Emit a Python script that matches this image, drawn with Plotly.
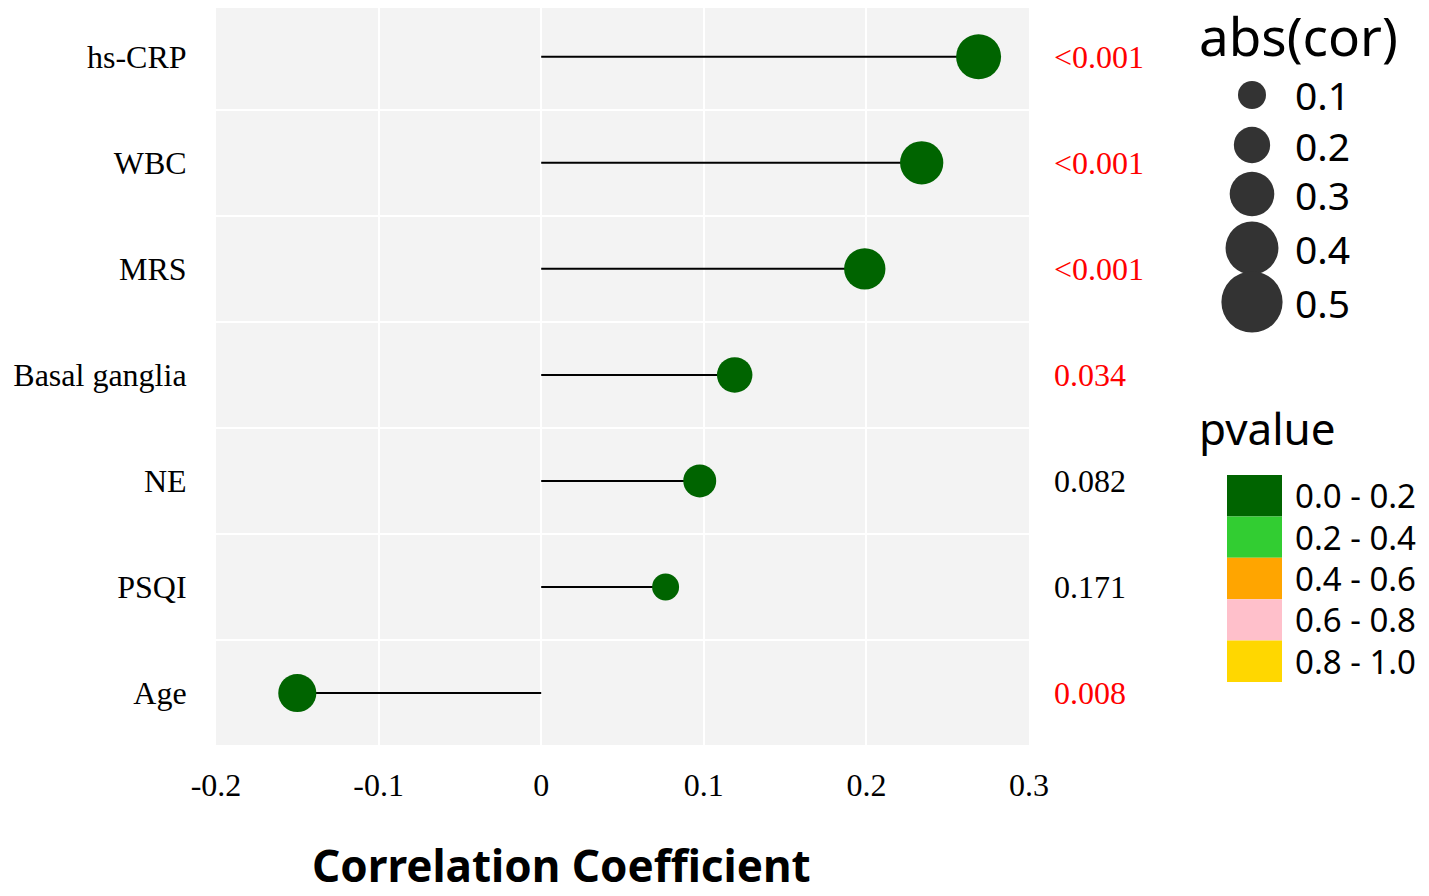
import numpy as np
import plotly.graph_objects as go

# data
variables = ['hs-CRP', 'WBC', 'MRS', 'Basal ganglia', 'NE', 'PSQI', 'Age']
cor = [0.269, 0.234, 0.199, 0.119, 0.0975, 0.0765, -0.150]
p_labels = ['<0.001', '<0.001', '<0.001', '0.034', '0.082', '0.171', '0.008']

x_ticks = [-0.2, -0.1, 0, 0.1, 0.2, 0.3]
x_tick_labels = ['-0.2', '-0.1', '0', '0.1', '0.2', '0.3']

size_breaks = [0.1, 0.2, 0.3, 0.4, 0.5]
p_bins = ['0.0 - 0.2', '0.2 - 0.4', '0.4 - 0.6', '0.6 - 0.8', '0.8 - 1.0']
p_bin_colors = ['#006400', '#32CD32', '#FFA500', '#FFC0CB', '#FFD700']

W, H = 1429, 896
SERIF = 'Liberation Serif'
SANS = 'Noto Sans'

p_num = [float(s.lstrip('<')) for s in p_labels]
abs_cor = np.abs(cor)
ypos = list(range(len(variables)))


def point_size(v):
    # area-like scaling, as ggplot's scale_size does
    lo, hi = abs_cor.min(), abs_cor.max()
    return 27 + 18 * np.sqrt((v - lo) / (hi - lo))


def legend_size(v):
    return 19.7 + 83 * v


def bin_color(p):
    return p_bin_colors[min(int(p / 0.2), 4)]


# pixel -> paper helpers (margins are 0, so paper == whole page)
def px(x):
    return x / W


def py(y):
    return 1 - y / H


fig = go.Figure()

# lollipop sticks
seg_x, seg_y = [], []
for c, y in zip(cor, ypos):
    seg_x += [0, c, None]
    seg_y += [y, y, None]
fig.add_trace(go.Scatter(x=seg_x, y=seg_y, mode='lines',
                         line=dict(color='black', width=2), hoverinfo='skip', showlegend=False))

fig.add_trace(go.Scatter(x=cor, y=ypos, mode='markers',
                         marker=dict(size=point_size(abs_cor), color=[bin_color(p) for p in p_num],
                                     line=dict(width=0), opacity=1),
                         showlegend=False))

# p value text on the right of the panel
for lab, p, y in zip(p_labels, p_num, ypos):
    fig.add_annotation(x=px(1052), xref='paper', y=y, yref='y', text=lab, showarrow=False,
                       xanchor='left', yanchor='middle',
                       font=dict(family=SERIF, size=32, color='red' if p < 0.05 else 'black'))

# size legend
leg_x = 1252
leg_y = [95, 145, 194, 248, 302]
for v, y in zip(size_breaks, leg_y):
    r = legend_size(v) / 2
    fig.add_shape(type='circle', xref='paper', yref='paper',
                  x0=px(leg_x - r), x1=px(leg_x + r), y0=py(y + r), y1=py(y - r),
                  fillcolor='#333333', line=dict(width=0))
    fig.add_annotation(x=px(1293), y=py(y), xref='paper', yref='paper', text=f'{v:.1f}', showarrow=False,
                       xanchor='left', yanchor='middle', font=dict(family=SANS, size=39, color='black'))
fig.add_annotation(x=px(1197), y=py(36), xref='paper', yref='paper', text='abs(cor)', showarrow=False,
                   xanchor='left', yanchor='middle', font=dict(family=SANS, size=53, color='black'))

# colour legend
fig.add_annotation(x=px(1197), y=py(428), xref='paper', yref='paper', text='pvalue', showarrow=False,
                   xanchor='left', yanchor='middle', font=dict(family=SANS, size=44, color='black'))
box_top, box_h = 475, 41.4
for i, (lab, col) in enumerate(zip(p_bins, p_bin_colors)):
    y0 = box_top + i * box_h
    fig.add_shape(type='rect', xref='paper', yref='paper',
                  x0=px(1227), x1=px(1282), y0=py(y0 + box_h), y1=py(y0),
                  fillcolor=col, line=dict(width=0))
    fig.add_annotation(x=px(1293), y=py(y0 + box_h / 2), xref='paper', yref='paper', text=lab,
                       showarrow=False, xanchor='left', yanchor='middle',
                       font=dict(family=SANS, size=33, color='black'))

# axis title
fig.add_annotation(x=px(561), y=py(865), xref='paper', yref='paper', text='<b>Correlation Coefficient</b>',
                   showarrow=False, xanchor='center', yanchor='middle',
                   font=dict(family=SANS, size=44, color='black'))

fig.update_layout(
    width=W, height=H,
    margin=dict(l=0, r=0, t=0, b=0),
    paper_bgcolor='white',
    plot_bgcolor='#f3f3f3',
    showlegend=False,
    xaxis=dict(domain=[216 / W, 1029 / W], range=[-0.2, 0.3], tickvals=x_ticks, ticktext=x_tick_labels,
               showgrid=True, gridcolor='white', gridwidth=2, zeroline=False, showline=False,
               ticks='outside', ticklen=12, tickcolor='rgba(0,0,0,0)',
               tickfont=dict(family=SERIF, size=32, color='black'), automargin=False),
    yaxis=dict(domain=[1 - 745 / H, 1 - 8 / H], range=[6.49, -0.46], tickvals=ypos, ticktext=variables,
               showgrid=False, zeroline=False, showline=False,
               minor=dict(tickvals=[i + 0.5 for i in ypos[:-1]], showgrid=True, gridcolor='white', gridwidth=2),
               ticks='outside', ticklen=22, tickcolor='rgba(0,0,0,0)',
               tickfont=dict(family=SERIF, size=32, color='black'), automargin=False),
)

fig.write_html('out.html', config={'displayModeBar': False},
               post_script="document.body.style.margin='0px';")
